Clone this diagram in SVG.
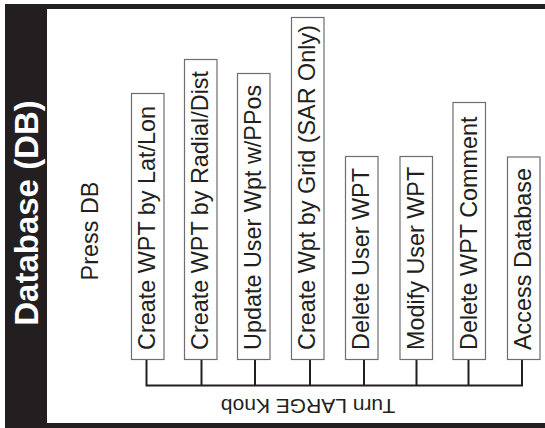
<svg xmlns="http://www.w3.org/2000/svg" width="545" height="428" viewBox="0 0 545 428">
<style>
.box{fill:#fff;stroke:#6d6e70;stroke-width:1.2}
.lbl{font-family:"Liberation Sans",Arial,sans-serif;font-size:23.4px;fill:#231f20}
.wire{stroke:#231f20;stroke-width:2;fill:none}
</style>
<g id="frame">
<rect x="5" y="4" width="540" height="424" fill="#231f20"/>
<rect x="47" y="9" width="498" height="414" fill="#fff"/>
</g>
<g id="title">
<text transform="translate(38,213) rotate(-90)" text-anchor="middle" font-family="'Liberation Sans',Arial,sans-serif" font-weight="bold" font-size="33" fill="#fff">Database (DB)</text>
</g>
<g id="press">
<text class="lbl" transform="translate(98,231) rotate(-90)" text-anchor="middle">Press DB</text>
</g>
<g id="connectors">
<path class="wire" d="M146.5,359.5V385.5M201.5,359.5V385.5M255,359.5V385.5M310,359.5V385.5M364,359.5V385.5M416.5,359.5V385.5M468.5,359.5V385.5M522,359.5V385.5M145.5,385.5H523"/>
</g>
<g id="n1"><rect class="box" x="131.5" y="93.5" width="32.5" height="266"/><text class="lbl" transform="translate(155,350) rotate(-90)">Create WPT by Lat/Lon</text></g>
<g id="n2"><rect class="box" x="184.5" y="59.5" width="32.5" height="300"/><text class="lbl" transform="translate(208,350) rotate(-90)">Create WPT by Radial/Dist</text></g>
<g id="n3"><rect class="box" x="237.5" y="73.5" width="32.5" height="286"/><text class="lbl" transform="translate(261,350) rotate(-90)">Update User Wpt w/PPos</text></g>
<g id="n4"><rect class="box" x="291.5" y="17.5" width="32.5" height="342"/><text class="lbl" transform="translate(315,350) rotate(-90)">Create Wpt by Grid (SAR Only)</text></g>
<g id="n5"><rect class="box" x="345.5" y="156.5" width="32.5" height="203"/><text class="lbl" transform="translate(369,350) rotate(-90)">Delete User WPT</text></g>
<g id="n6"><rect class="box" x="400" y="156.5" width="32.5" height="203"/><text class="lbl" transform="translate(423.5,350) rotate(-90)">Modify User WPT</text></g>
<g id="n7"><rect class="box" x="453" y="102.5" width="32.5" height="257"/><text class="lbl" transform="translate(476.5,350) rotate(-90)">Delete WPT Comment</text></g>
<g id="n8"><rect class="box" x="507.5" y="157" width="32.5" height="202.5"/><text class="lbl" transform="translate(531,350) rotate(-90)">Access Database</text></g>
<g id="knob">
<text transform="translate(308,398.5) rotate(180)" text-anchor="middle" font-family="'Liberation Sans',Arial,sans-serif" font-size="21" fill="#231f20">Turn LARGE Knob</text>
</g>
</svg>
